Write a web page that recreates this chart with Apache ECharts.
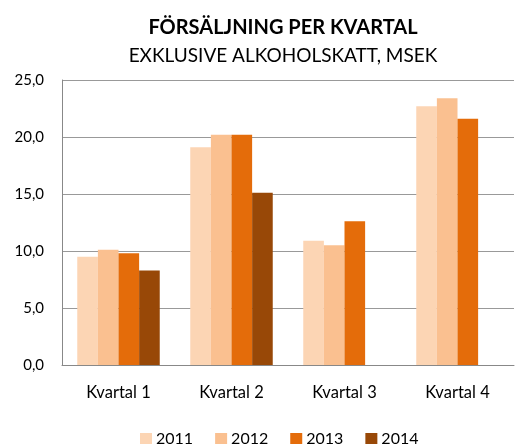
<!DOCTYPE html>
<html><head><meta charset="utf-8">
<script src="https://cdn.jsdelivr.net/npm/echarts@6/dist/echarts.min.js"></script>
<style>html,body{margin:0;padding:0;background:#fff}#c{width:515px;height:444px}</style>
</head><body><div id="c"></div>
<script>
const categories = ['Kvartal 1', 'Kvartal 2', 'Kvartal 3', 'Kvartal 4'];
const years = ['2011', '2012', '2013', '2014'];
const s2011 = [9.5, 19.1, 10.9, 22.7];
const s2012 = [10.1, 20.2, 10.5, 23.4];
const s2013 = [9.8, 20.2, 12.6, 21.6];
const s2014 = [8.3, 15.1, null, null];
const colors = ['#FCD5B4', '#FAC090', '#E46C0A', '#984807'];
const FONT = 'Lato, "Open Sans", sans-serif';

const chart = echarts.init(document.getElementById('c'));
const seriesData = [s2011, s2012, s2013, s2014];
chart.setOption({
  animation: false,
  title: {
    text: 'FÖRSÄLJNING PER KVARTAL',
    subtext: 'EXKLUSIVE ALKOHOLSKATT, MSEK',
    left: 278, textAlign: 'center', top: 13,
    itemGap: 8,
    textStyle: { fontFamily: FONT, fontSize: 20, fontWeight: 'bold', color: '#000' },
    subtextStyle: { fontFamily: FONT, fontSize: 19, color: '#000' }
  },
  legend: {
    data: years, top: 426, left: 135,
    itemWidth: 12, itemHeight: 12, itemGap: 22,
    icon: 'rect',
    textStyle: { fontFamily: FONT, fontSize: 16, color: '#000', padding: [0,0,0,-1] }
  },
  grid: { left: 62, right: 1, top: 80, bottom: 79, containLabel: false },
  xAxis: {
    type: 'category', data: categories,
    axisLine: { lineStyle: { color: '#888' } },
    axisTick: { show: false },
    axisLabel: { fontFamily: FONT, fontSize: 16.5, color: '#000', margin: 19 }
  },
  yAxis: {
    type: 'value', min: 0, max: 25, interval: 5,
    axisLine: { show: true, lineStyle: { color: '#888' } },
    axisTick: { show: false },
    splitLine: { lineStyle: { color: '#999', width: 1 } },
    axisLabel: { fontFamily: FONT, fontSize: 15, color: '#000', margin: 18,
      formatter: v => v.toFixed(1).replace('.', ',') }
  },
  series: years.map((y, i) => ({
    name: y, type: 'bar', data: seriesData[i],
    barGap: '0%', barCategoryGap: '27%',
    itemStyle: { color: colors[i] }
  }))
});
</script></body></html>
